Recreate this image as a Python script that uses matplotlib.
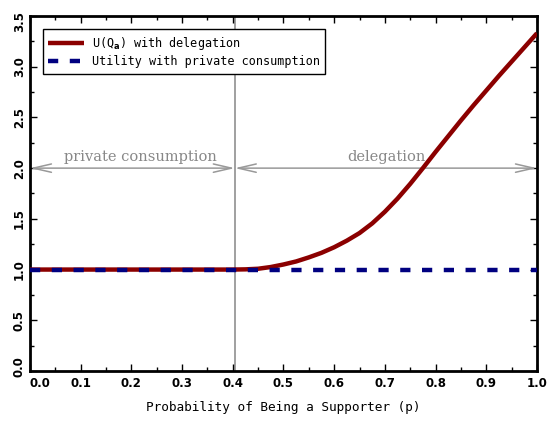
import numpy as np
import matplotlib
matplotlib.use('Agg')
import matplotlib.pyplot as plt
import matplotlib.transforms as mtransforms
from matplotlib.ticker import MultipleLocator

# Data
p_vals = [0.0, 0.05, 0.1, 0.15, 0.2, 0.25, 0.3, 0.35, 0.4, 0.425, 0.45, 0.475,
          0.5, 0.525, 0.55, 0.575, 0.6, 0.625, 0.65, 0.675, 0.7, 0.725, 0.75,
          0.775, 0.8, 0.825, 0.85, 0.875, 0.9, 0.925, 0.95, 0.975, 1.0]
u_delegation = [1.0, 1.0, 1.0, 1.0, 1.0, 1.0, 1.0, 1.0, 1.0, 1.002, 1.008, 1.025,
                1.05, 1.08, 1.12, 1.165, 1.22, 1.285, 1.36, 1.455, 1.57, 1.70, 1.845,
                2.0, 2.16, 2.315, 2.47, 2.62, 2.765, 2.91, 3.05, 3.19, 3.33]
p_private = [0.0, 1.0]
u_private = [1.0, 1.0]
threshold = 0.404  # cutoff between private consumption and delegation

fig = plt.figure(figsize=(5.5, 4.21), dpi=100)
ax = fig.add_axes([0.0545, 0.1188, 0.9218, 0.8432])

ax.axvline(threshold, color='#999999', lw=1.3, zorder=1)

ax.plot(p_vals, u_delegation, color='#8b0000', lw=3.2, solid_capstyle='butt',
        label=r'U(Q$_\mathbf{a}$) with delegation', zorder=3)
ax.plot(p_private, u_private, color='#000080', lw=3.2, dashes=(2.3, 2.6),
        label='Utility with private consumption', zorder=4)

# Region arrows
arrow_props = dict(arrowstyle='<->,head_length=1.3,head_width=0.3', color='#999999', lw=1.1,
                   shrinkA=0, shrinkB=0)
ax.annotate('', xy=(0.0, 2.0), xytext=(threshold, 2.0), arrowprops=arrow_props, zorder=2)
ax.annotate('', xy=(threshold, 2.0), xytext=(1.0, 2.0), arrowprops=arrow_props, zorder=2)
ax.text(0.217, 2.04, 'private consumption', color='#888888', fontsize=10.5,
        family='DejaVu Serif', ha='center', va='bottom')
ax.text(0.704, 2.04, 'delegation', color='#888888', fontsize=10.5,
        family='DejaVu Serif', ha='center', va='bottom')

ax.set_xlim(0, 1.0)
ax.set_ylim(0, 3.5)
ax.xaxis.set_major_locator(MultipleLocator(0.1))
ax.xaxis.set_minor_locator(MultipleLocator(0.05))
ax.yaxis.set_major_locator(MultipleLocator(0.5))
ax.yaxis.set_minor_locator(MultipleLocator(0.25))
ax.tick_params(which='both', direction='in', top=True, right=True, width=1)
ax.tick_params(which='major', length=5, labelsize=8.5)
ax.tick_params(axis='x', which='major', pad=4)
ax.tick_params(axis='y', which='major', pad=3, labelrotation=90)
ax.tick_params(which='minor', length=3)
ax.xaxis.set_major_formatter(plt.FormatStrFormatter('%.1f'))
ax.yaxis.set_major_formatter(plt.FormatStrFormatter('%.1f'))

for s in ax.spines.values():
    s.set_linewidth(2)

ax.set_xlabel('Probability of Being a Supporter (p)', family='DejaVu Sans Mono',
              fontsize=9.2, labelpad=8)

leg = ax.legend(loc='upper left', bbox_to_anchor=(0.026, 0.962), borderaxespad=0,
                fancybox=False, framealpha=1, edgecolor='black', handlelength=3.0,
                prop={'family': 'DejaVu Sans Mono', 'size': 8.5}, borderpad=0.45,
                labelspacing=0.3, handletextpad=0.7)
leg.get_frame().set_linewidth(1.0)

fig.canvas.draw()
for tick in ax.xaxis.get_major_ticks() + ax.yaxis.get_major_ticks():
    tick.label1.set_fontweight('bold')
for tick in ax.yaxis.get_major_ticks():
    tick.label1.set_verticalalignment('center')


def nudge(label, dx, dy):
    # shift a tick label by (dx, dy) points
    label.set_transform(label.get_transform() +
                        mtransforms.ScaledTranslation(dx / 72, dy / 72, fig.dpi_scale_trans))


xticks = ax.xaxis.get_major_ticks()
yticks = ax.yaxis.get_major_ticks()
xlocs = ax.get_xticks()
ylocs = ax.get_yticks()
for tick, loc in zip(xticks, xlocs):
    if abs(loc) < 1e-9:
        nudge(tick.label1, 7, 0)
for tick, loc in zip(yticks, ylocs):
    if abs(loc) < 1e-9:
        nudge(tick.label1, 0, 3.5)
    if abs(loc - 3.5) < 1e-9:
        nudge(tick.label1, 0, -4)

fig.savefig('out.png', dpi=100)
